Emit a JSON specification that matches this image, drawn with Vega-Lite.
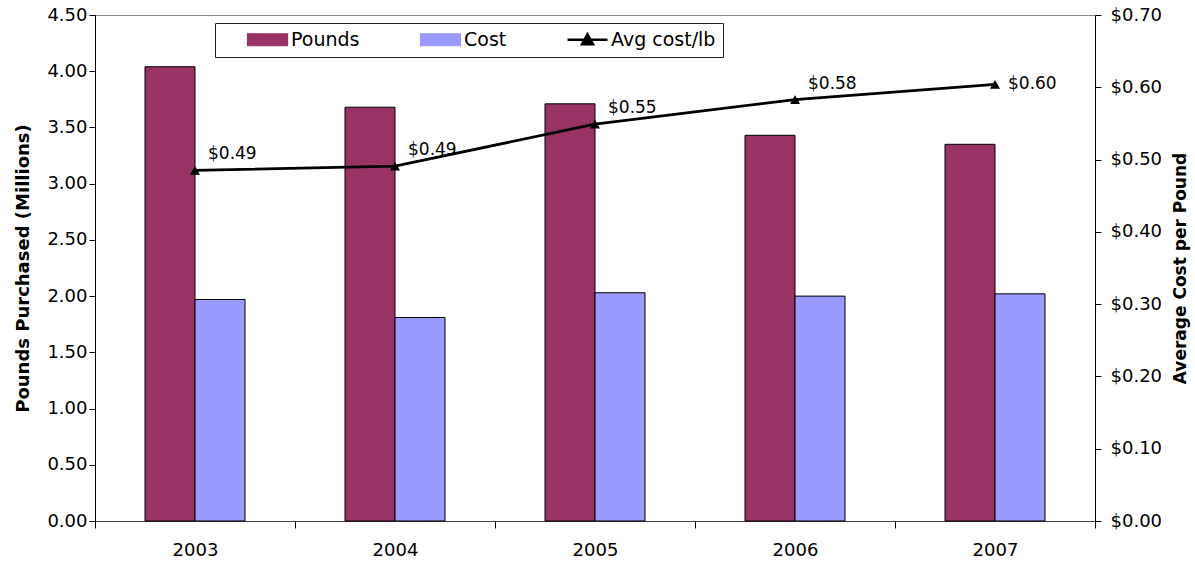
{
  "$schema": "https://vega.github.io/schema/vega-lite/v6.json",
  "width": 1000,
  "height": 506,
  "autosize": {"type": "none"},
  "padding": {"left": 95, "top": 15, "right": 100, "bottom": 44},
  "background": "white",
  "config": {
    "view": {"stroke": "#888888", "strokeWidth": 1},
    "font": "DejaVu Sans",
    "axis": {
      "labelFont": "DejaVu Sans",
      "labelFontSize": 18,
      "labelColor": "black",
      "titleFont": "DejaVu Sans",
      "titleFontSize": 18,
      "titleFontWeight": "bold",
      "titleColor": "black",
      "domainColor": "black",
      "tickColor": "black",
      "grid": false
    }
  },
  "datasets": {
    "bars": [
      {"year": "2003", "series": "Pounds", "value": 4.04},
      {"year": "2003", "series": "Cost", "value": 1.97},
      {"year": "2004", "series": "Pounds", "value": 3.68},
      {"year": "2004", "series": "Cost", "value": 1.81},
      {"year": "2005", "series": "Pounds", "value": 3.71},
      {"year": "2005", "series": "Cost", "value": 2.03},
      {"year": "2006", "series": "Pounds", "value": 3.43},
      {"year": "2006", "series": "Cost", "value": 2.0},
      {"year": "2007", "series": "Pounds", "value": 3.35},
      {"year": "2007", "series": "Cost", "value": 2.02}
    ],
    "avg": [
      {"year": "2003", "series": "Avg cost/lb", "avg": 0.485, "label": "$0.49", "side": "up"},
      {"year": "2004", "series": "Avg cost/lb", "avg": 0.491, "label": "$0.49", "side": "up"},
      {"year": "2005", "series": "Avg cost/lb", "avg": 0.549, "label": "$0.55", "side": "up"},
      {"year": "2006", "series": "Avg cost/lb", "avg": 0.583, "label": "$0.58", "side": "up"},
      {"year": "2007", "series": "Avg cost/lb", "avg": 0.604, "label": "$0.60", "side": "right"}
    ]
  },
  "encoding": {
    "x": {
      "field": "year",
      "type": "nominal",
      "scale": {"paddingInner": 0, "paddingOuter": 0},
      "axis": {
        "title": null,
        "labelAngle": 0,
        "tickBand": "extent",
        "tickSize": 7,
        "labelPadding": 13,
        "domainColor": "#404040"
      }
    }
  },
  "layer": [
    {
      "data": {"name": "bars"},
      "mark": {"type": "bar", "stroke": "black", "strokeWidth": 1},
      "encoding": {
        "xOffset": {
          "field": "series",
          "type": "nominal",
          "sort": ["Pounds", "Cost"],
          "scale": {"paddingInner": 0, "paddingOuter": 1.0833}
        },
        "y": {
          "field": "value",
          "type": "quantitative",
          "scale": {"domain": [0, 4.5], "nice": false},
          "axis": {
            "title": "Pounds Purchased (Millions)",
            "values": [0, 0.5, 1, 1.5, 2, 2.5, 3, 3.5, 4, 4.5],
            "format": ".2f",
            "tickSize": 6,
            "labelPadding": 2,
            "titlePadding": 14
          }
        },
        "color": {
          "field": "series",
          "type": "nominal",
          "scale": {
            "domain": ["Pounds", "Cost", "Avg cost/lb"],
            "range": ["#993366", "#9999FF", "#000000"]
          },
          "legend": {
            "title": null,
            "orient": "none",
            "direction": "horizontal",
            "legendX": 120,
            "legendY": 8,
            "padding": 7,
            "strokeColor": "#222222",
            "fillColor": "white",
            "symbolSize": 400,
            "labelFont": "DejaVu Sans",
            "labelFontSize": 19,
            "labelColor": "black",
            "labelOffset": 50,
            "columnPadding": 35,
            "symbolStrokeColor": "black",
            "encode": {
              "symbols": {
                "update": {
                  "shape": {"signal": "datum.value === 'Avg cost/lb' ? 'M1.6,0H5.6M3.05,0.45L3.6,-0.55L4.15,0.45Z' : 'M1.6,-0.6H5.6V0.6H1.6Z'"},
                  "size": {"value": 400},
                  "fill": {"signal": "datum.value === 'Avg cost/lb' ? 'black' : (datum.value === 'Pounds' ? '#993366' : '#9999FF')"},
                  "stroke": {"value": "black"},
                  "strokeWidth": {"signal": "datum.value === 'Avg cost/lb' ? 2.5 : 1.2"},
                  "opacity": {"value": 1}
                }
              }
            }
          }
        }
      }
    },
    {
      "data": {"name": "avg"},
      "encoding": {
        "y": {
          "field": "avg",
          "type": "quantitative",
          "scale": {"domain": [0, 0.7], "nice": false},
          "axis": {
            "orient": "right",
            "title": "Average Cost per Pound",
            "titleAngle": 270,
            "titleFontSize": 17,
            "values": [0, 0.1, 0.2, 0.3, 0.4, 0.5, 0.6, 0.7],
            "format": "$.2f",
            "tickSize": 6,
            "labelPadding": 9,
            "titlePadding": 28
          }
        }
      },
      "layer": [
        {
          "mark": {"type": "line", "color": "black", "strokeWidth": 2.8},
          "encoding": {"color": {"field": "series", "type": "nominal"}}
        },
        {
          "mark": {"type": "point", "shape": "triangle-up", "filled": true, "size": 100, "opacity": 1},
          "encoding": {"color": {"field": "series", "type": "nominal"}}
        },
        {
          "transform": [{"filter": "datum.side === 'up'"}],
          "mark": {"type": "text", "align": "left", "baseline": "middle", "dx": 13, "dy": -16, "fontSize": 17, "font": "DejaVu Sans", "color": "black"},
          "encoding": {"text": {"field": "label"}}
        },
        {
          "transform": [{"filter": "datum.side === 'right'"}],
          "mark": {"type": "text", "align": "left", "baseline": "middle", "dx": 13, "dy": 0, "fontSize": 17, "font": "DejaVu Sans", "color": "black"},
          "encoding": {"text": {"field": "label"}}
        }
      ]
    }
  ],
  "resolve": {"scale": {"y": "independent"}}
}
